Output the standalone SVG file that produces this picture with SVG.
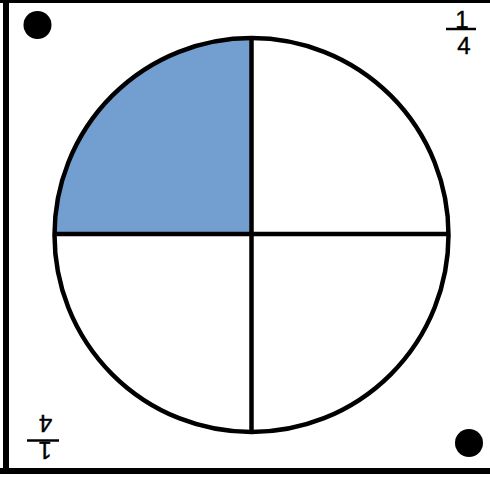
<svg xmlns="http://www.w3.org/2000/svg" width="490" height="477" viewBox="0 0 490 477">
<style>
.frame{fill:#000}
.dot{fill:#000}
.ln{stroke:#000;stroke-width:4.5;fill:none}
.frac{font-family:"Liberation Sans","DejaVu Sans",sans-serif;font-size:24px;fill:#000;text-anchor:middle;stroke:#000;stroke-width:0.4}
.bar{stroke:#000;stroke-width:2.5}
</style>
<rect width="490" height="477" fill="#fff"/>
<g id="frame">
<rect class="frame" x="0" y="0" width="490" height="3"/>
<rect class="frame" x="3" y="0" width="6" height="474"/>
<rect class="frame" x="0" y="468" width="490" height="6"/>
</g>
<g id="dot-top-left"><circle class="dot" cx="37.5" cy="25" r="14"/></g>
<g id="dot-bottom-right"><circle class="dot" cx="469" cy="443" r="14"/></g>
<g id="fraction-top-right">
<text class="frac" x="462" y="27.5">1</text>
<line class="bar" x1="446" y1="29" x2="476" y2="29"/>
<text class="frac" x="464" y="54">4</text>
</g>
<g id="fraction-bottom-left" transform="rotate(180 43 440.5)">
<text class="frac" x="41" y="439.5">1</text>
<line class="bar" x1="27" y1="440.5" x2="59" y2="440.5"/>
<text class="frac" x="40.5" y="466.5">4</text>
</g>
<g id="circle">
<path d="M251.5,235 L54.5,235 A197,197 0 0 1 251.5,38 Z" fill="#729fcf"/>
<circle class="ln" cx="251.5" cy="235" r="197"/>
</g>
<g id="connectors">
<line class="ln" x1="251.5" y1="38" x2="251.5" y2="432"/>
<line class="ln" x1="54.5" y1="234" x2="448.5" y2="234"/>
</g>
</svg>
